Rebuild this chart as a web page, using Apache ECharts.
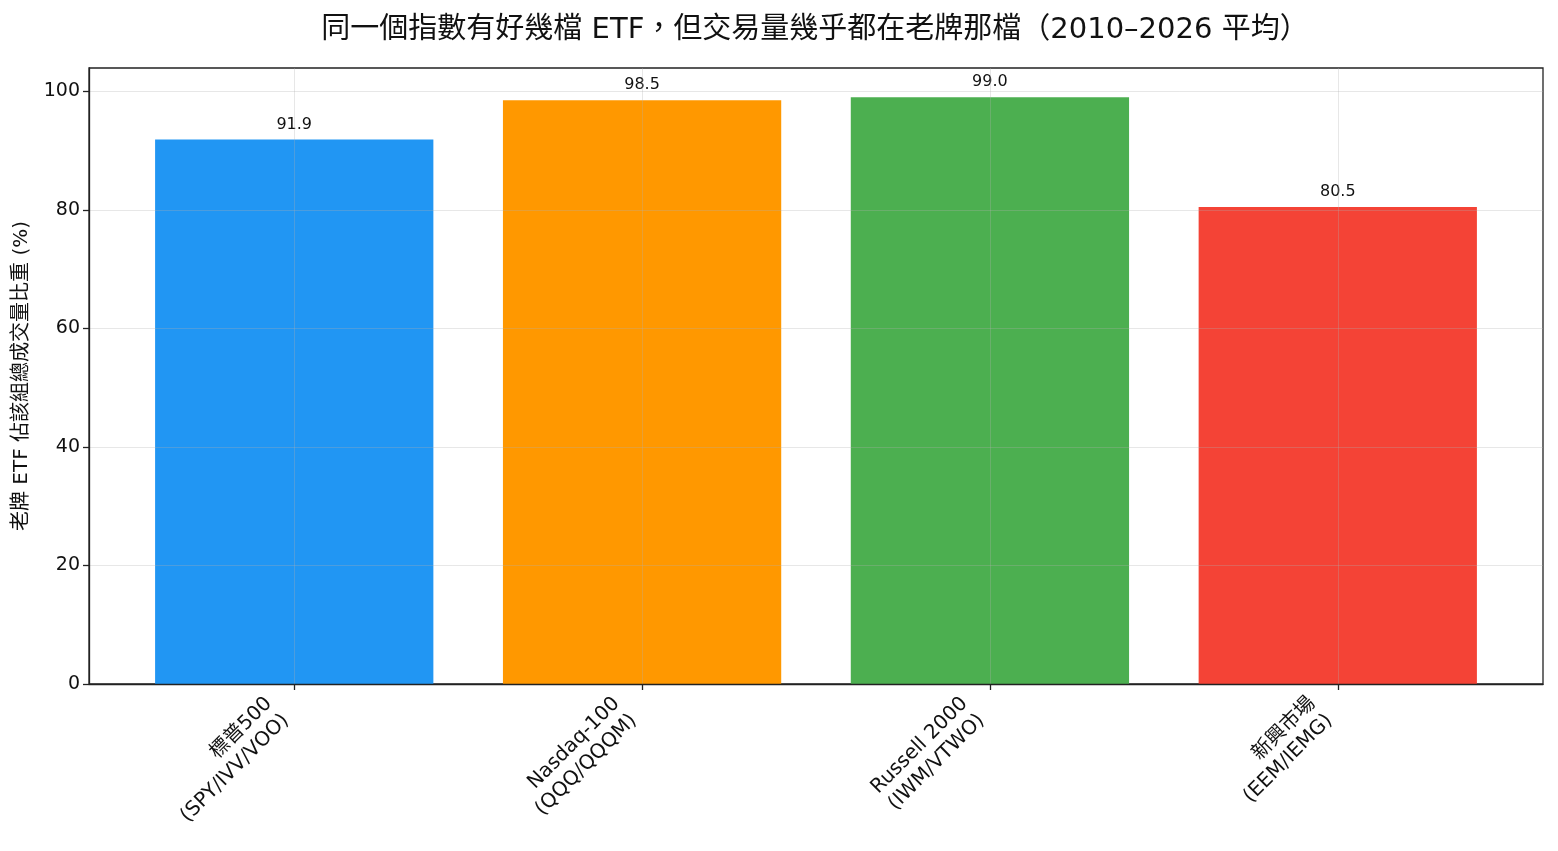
<!DOCTYPE html>
<html>
<head>
<meta charset="utf-8">
<script src="https://cdn.jsdelivr.net/npm/echarts@6/dist/echarts.min.js"></script>
<style>
  html, body { margin: 0; padding: 0; background: #fff; }
  #chart { width: 1558px; height: 851px; }
</style>
</head>
<body>
<div id="chart"></div>
<script>
// data
var categories = ['標普500\n(SPY/IVV/VOO)', 'Nasdaq-100\n(QQQ/QQQM)', 'Russell 2000\n(IWM/VTWO)', '新興市場\n(EEM/IEMG)'];
var shares = [91.9, 98.5, 99.0, 80.5];
var barColors = ['#2196F3', '#FF9800', '#4CAF50', '#F44336'];
var yTicks = [0, 20, 40, 60, 80, 100];

var FONT = '"DejaVu Sans", "Noto Sans CJK TC", sans-serif';
var xMin = -0.59, xMax = 3.59;
var gridLeft = 89, gridRight = 15;
var gridW = 1558 - gridLeft - gridRight;
var barW = gridW / (xMax - xMin) * 0.8;

var myChart = echarts.init(document.getElementById('chart'));

var option = {
	backgroundColor: '#fff',
	animation: false,
	title: {
		text: '同一個指數有好幾檔 ETF，但交易量幾乎都在老牌那檔（2010–2026 平均）',
		left: 810,
		textAlign: 'center',
		top: 11,
		textStyle: {fontFamily: FONT, fontSize: 29, fontWeight: 'normal', color: '#111'}
	},
	grid: {
		left: gridLeft, right: gridRight, top: 68, bottom: 167,
		show: true, borderColor: '#222', borderWidth: 1.3, backgroundColor: 'transparent'
	},
	xAxis: {
		type: 'value',
		min: xMin, max: xMax,
		z: 5,
		axisLine: {show: true, onZero: false, lineStyle: {color: '#222', width: 1.3}},
		axisTick: {show: true, length: 6, customValues: [0, 1, 2, 3], lineStyle: {color: '#222', width: 1.3}},
		splitLine: {show: true, lineStyle: {color: 'rgba(176,176,176,0.3)', width: 1}},
		axisLabel: {
			customValues: [0, 1, 2, 3],
			rotate: 45,
			margin: 42,
			align: 'right',
			verticalAlign: 'bottom',
			fontFamily: FONT, fontSize: 20, color: '#111', lineHeight: 24,
			formatter: function(v) { return categories[Math.round(v)]; }
		}
	},
	yAxis: {
		type: 'value',
		min: 0, max: 103.95,
		z: 5,
		name: '老牌 ETF 佔該組總成交量比重 (%)',
		nameLocation: 'middle',
		nameGap: 57,
		nameTextStyle: {fontFamily: FONT, fontSize: 20, color: '#111'},
		axisLine: {show: true, onZero: false, lineStyle: {color: '#222', width: 1.3}},
		axisTick: {show: true, length: 6, customValues: yTicks, lineStyle: {color: '#222', width: 1.3}},
		splitLine: {show: true, lineStyle: {color: 'rgba(176,176,176,0.3)', width: 1}},
		axisLabel: {customValues: yTicks, margin: 9, fontFamily: FONT, fontSize: 19, color: '#111'}
	},
	series: [
		{
			type: 'bar',
			barWidth: barW,
			z: 2,
			data: shares.map(function(v, i) {
				return {value: [i, v], itemStyle: {color: barColors[i]}};
			}),
			label: {
				show: true, position: 'top', distance: 7,
				fontFamily: FONT, fontSize: 16, color: '#111',
				formatter: function(p) { return p.value[1].toFixed(1); }
			}
		}
	]
};
myChart.setOption(option);
</script>
</body>
</html>
